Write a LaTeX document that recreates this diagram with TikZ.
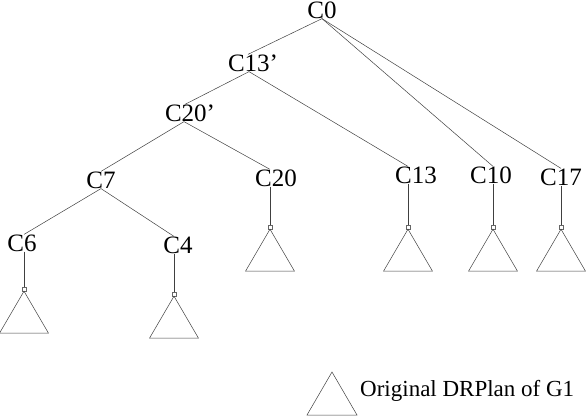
\documentclass[tikz,border=0pt]{standalone}
\usepackage{fontspec}
\setmainfont{Liberation Serif}
\begin{document}
\begin{tikzpicture}[x=1pt,y=-1pt,
  lbl/.style={inner sep=0pt, font=\fontsize{25}{30}\selectfont},
  edge/.style={black!75, line width=0.5pt},
  apex/.style={draw=black!60, line width=0.4pt, minimum size=4pt, inner sep=0pt},
  tri/.style={black!75, line width=0.5pt}]
\useasboundingbox (0,0) rectangle (588,417);

\node[lbl] (c0) at (322,10) {C0};
\node[lbl] (c13p) at (253,63) {C13'};
\node[lbl] (c20p) at (190,113) {C20'};
\node[lbl] (c7) at (101,180) {C7};
\node[lbl] (c20) at (276,178) {C20};
\node[lbl] (c13) at (416,175) {C13};
\node[lbl] (c10) at (491,175) {C10};
\node[lbl] (c17) at (561,177) {C17};
\node[lbl] (c6) at (22,243) {C6};
\node[lbl] (c4) at (178,245) {C4};

\node[apex] (t6) at (24,289) {};
\node[apex] (t4) at (174,294) {};
\node[apex] (t20) at (270,227) {};
\node[apex] (t13) at (408,227) {};
\node[apex] (t10) at (493,227) {};
\node[apex] (t17) at (561,227) {};

\draw[edge] (c0.south) -- ([xshift=-5pt]c13p.north);
\draw[edge] (c0.south) -- (c10.north -| t10);
\draw[edge] (c0.south) -- (c17.north -| t17);
\draw[edge] ([xshift=-4pt]c13p.south) -- ([xshift=-5pt]c20p.north);
\draw[edge] ([xshift=-4pt]c13p.south) -- (c13.north -| t13);
\draw[edge] ([xshift=-6pt]c20p.south) -- (c7.north);
\draw[edge] ([xshift=-6pt]c20p.south) -- (c20.north -| t20);
\draw[edge] (c7.south) -- (c6.north -| t6);
\draw[edge] (c7.south) -- (c4.north -| t4);

\foreach \c/\t in {c6/t6, c4/t4, c20/t20, c13/t13, c10/t10, c17/t17}
  \draw[edge] (\c.south -| \t) -- (\t.north);

\foreach \t in {t6, t4, t20, t13, t10, t17}
  \draw[tri] (\t.south) -- ++(-24.5,42) -- ++(49,0) -- cycle;

\coordinate (tl) at (332,372);
\draw[tri] (tl) -- ++(-25,43) -- ++(50,0) -- cycle;
\node[lbl, anchor=west, font=\fontsize{23}{27}\selectfont] (leg) at (360,391) {Original DRPlan of G1};
\end{tikzpicture}
\end{document}
